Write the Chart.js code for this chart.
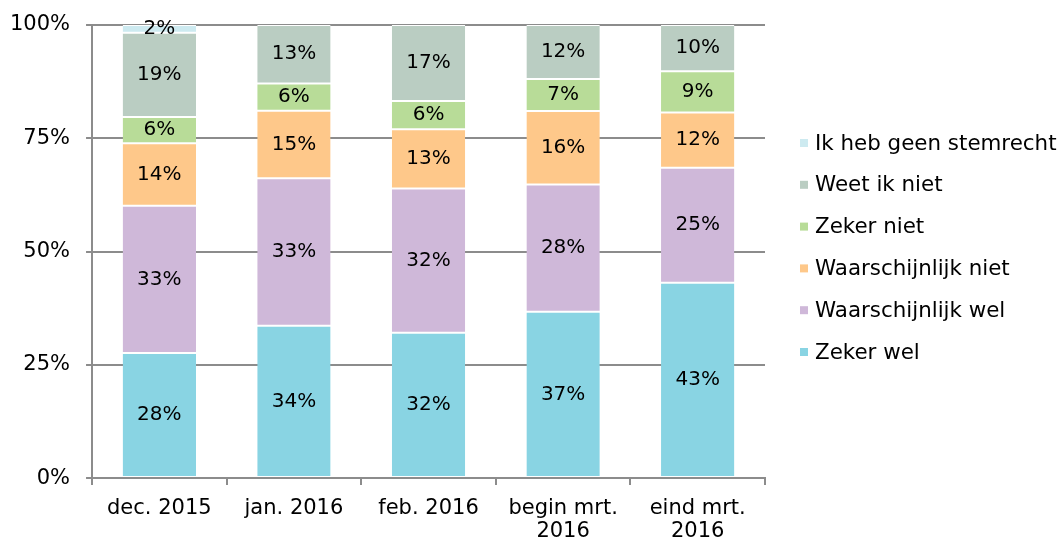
<!DOCTYPE html>
<html>
<head>
<meta charset="utf-8">
<script src="https://cdn.jsdelivr.net/npm/chart.js@4.4.0/dist/chart.umd.min.js"></script>
<style>
    html, body { margin: 0; padding: 0; background: #ffffff; }
    #wrap { width: 1060px; height: 541px; }
</style>
</head>
<body>
<div id="wrap"><canvas id="stemChart" width="1060" height="541"></canvas></div>
<script>
// Data (percentages)
var categories = ["dec. 2015", "jan. 2016", "feb. 2016", ["begin mrt.", "2016"], ["eind mrt.", "2016"]];
var zekerWel = [27.6, 33.6, 32.1, 36.7, 43.1];
var waarschijnlijkWel = [32.5, 32.6, 31.8, 28.1, 25.4];
var waarschijnlijkNiet = [13.8, 14.9, 13.1, 16.2, 12.2];
var zekerNiet = [5.8, 6.0, 6.2, 7.1, 9.1];
var weetIkNiet = [18.6, 12.9, 16.8, 11.9, 10.2];
var geenStemrecht = [1.7, 0, 0, 0, 0];
var yTicks = [0, 25, 50, 75, 100];

var FONT = "'DejaVu Sans', Verdana, sans-serif";
var FSIZE = 21;
var GRID = "#8c8c8c";

// Draw the rounded percentages in the middle of each segment
var segmentLabels = {
    id: "segmentLabels",
    afterDatasetsDraw: function (chart) {
        var ctx = chart.ctx;
        ctx.save();
        ctx.font = "20px " + FONT;
        ctx.fillStyle = "#000000";
        ctx.textAlign = "center";
        ctx.textBaseline = "middle";
        chart.data.datasets.forEach(function (ds, i) {
            var meta = chart.getDatasetMeta(i);
            meta.data.forEach(function (bar, j) {
                var v = ds.data[j];
                if (!v) return;
                var p = bar.getCenterPoint();
                ctx.fillText(Math.round(v) + "%", p.x, p.y);
            });
        });
        ctx.restore();
    }
};

// Legend on the right, last series on top (like the original)
var sideLegend = {
    id: "sideLegend",
    afterDraw: function (chart) {
        var ctx = chart.ctx;
        var sets = chart.data.datasets.slice().reverse();
        var x = chart.chartArea.right + 35;
        var y = 143;
        ctx.save();
        ctx.font = "21.4px " + FONT;
        ctx.textBaseline = "middle";
        ctx.textAlign = "left";
        sets.forEach(function (ds) {
            ctx.fillStyle = ds.backgroundColor;
            ctx.fillRect(x, y - 4, 8, 8);
            ctx.fillStyle = "#000000";
            ctx.fillText(ds.label, x + 15, y + 1);
            y += 41.8;
        });
        ctx.restore();
    }
};

function makeSet(label, data, color) {
    return {
        label: label,
        data: data,
        backgroundColor: color,
        borderColor: "#ffffff",
        borderWidth: { top: 1, bottom: 1, left: 0, right: 0 },
        borderSkipped: false,
        barPercentage: 0.545,
        categoryPercentage: 1.0
    };
}

var ctx = document.getElementById("stemChart").getContext("2d");
new Chart(ctx, {
    type: "bar",
    data: {
        labels: categories,
        datasets: [
            makeSet("Zeker wel", zekerWel, "#89d4e3"),
            makeSet("Waarschijnlijk wel", waarschijnlijkWel, "#cfb8d9"),
            makeSet("Waarschijnlijk niet", waarschijnlijkNiet, "#fec88a"),
            makeSet("Zeker niet", zekerNiet, "#b8dc98"),
            makeSet("Weet ik niet", weetIkNiet, "#bacdc2"),
            makeSet("Ik heb geen stemrecht", geenStemrecht, "#cdeaf0")
        ]
    },
    options: {
        responsive: false,
        animation: false,
        layout: { padding: { top: 25, left: -6, right: 295, bottom: -14 } },
        plugins: {
            tooltip: { enabled: false },
            legend: { display: false }
        },
        scales: {
            x: {
                stacked: true,
                grid: {
                    offset: true,
                    drawOnChartArea: false,
                    drawTicks: true,
                    tickLength: 7,
                    color: GRID,
                    lineWidth: 2
                },
                border: { display: true, color: GRID, width: 2 },
                ticks: {
                    color: "#000000",
                    font: { size: FSIZE, family: FONT, lineHeight: 1.14 },
                    padding: 11,
                    maxRotation: 0
                }
            },
            y: {
                stacked: true,
                min: 0,
                max: 100,
                afterBuildTicks: function (axis) {
                    axis.ticks = yTicks.map(function (v) { return { value: v }; });
                },
                grid: { color: GRID, lineWidth: 2, tickLength: 6 },
                border: { display: true, color: GRID, width: 2 },
                ticks: {
                    color: "#000000",
                    font: { size: FSIZE, family: FONT, lineHeight: 0.8 },
                    padding: 16,
                    callback: function (v) { return v + "%"; }
                }
            }
        }
    },
    plugins: [segmentLabels, sideLegend]
});
</script>
</body>
</html>
